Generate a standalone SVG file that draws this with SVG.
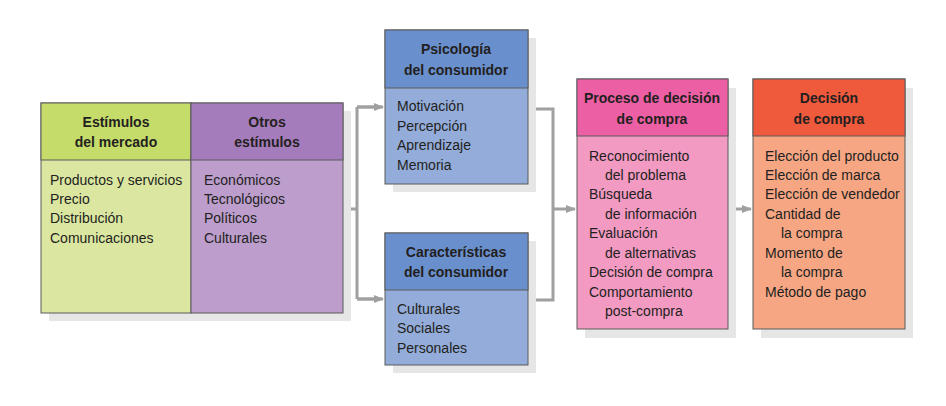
<svg xmlns="http://www.w3.org/2000/svg" width="946" height="406" viewBox="0 0 946 406">
<style>
text{font-family:"Liberation Sans Narrow","Liberation Sans",Arial,sans-serif;font-size:14px;fill:#231f20}
.h{font-weight:bold;text-anchor:middle}
.sh{fill:#e6e6e6}
.b{stroke:#5a5a5a;stroke-width:1}
.c{fill:none;stroke:#a0a0a0;stroke-width:3}
</style>
<defs><marker id="a" markerWidth="10" markerHeight="8" refX="9" refY="4" orient="auto" markerUnits="userSpaceOnUse"><path d="M0,0 L10,4 L0,8 z" fill="#a0a0a0"/></marker></defs>
<g id="connectors">
<path class="c" d="M343,209 H357 M357,107 V299 M357,107 H381 M357,299 H381" />
<path class="c" d="M357,107 H383" marker-end="url(#a)"/>
<path class="c" d="M357,299 H383" marker-end="url(#a)"/>
<path class="c" d="M528,109 H553 V300 H528 M553,209 H575" marker-end="url(#a)"/>
<path class="c" d="M728,209 H751" marker-end="url(#a)"/>
</g>
<g id="estimulos">
<rect class="sh" x="49" y="111" width="302" height="210"/>
<rect class="b" x="41" y="103" width="150" height="210" fill="#dbe7a1"/>
<rect class="b" x="41" y="103" width="150" height="57" fill="#c5dc6a"/>
<text class="h" x="116" y="127">Estímulos</text><text class="h" x="116" y="147">del mercado</text>
<text x="50" y="185">Productos y servicios</text><text x="50" y="204">Precio</text><text x="50" y="223">Distribución</text><text x="50" y="243">Comunicaciones</text>
</g>
<g id="otros">
<rect class="b" x="191" y="103" width="152" height="210" fill="#bc9dcc"/>
<rect class="b" x="191" y="103" width="152" height="57" fill="#a57cbb"/>
<text class="h" x="267" y="127">Otros</text><text class="h" x="267" y="147">estímulos</text>
<text x="204" y="185">Económicos</text><text x="204" y="204">Tecnológicos</text><text x="204" y="223">Políticos</text><text x="204" y="243">Culturales</text>
</g>
<g id="psicologia">
<rect class="sh" x="393" y="38" width="143" height="154"/>
<rect class="b" x="385" y="30" width="143" height="154" fill="#93acd9"/>
<rect class="b" x="385" y="30" width="143" height="58" fill="#6a8fcd"/>
<text class="h" x="456" y="54">Psicología</text><text class="h" x="456" y="75">del consumidor</text>
<text x="397" y="111">Motivación</text><text x="397" y="131">Percepción</text><text x="397" y="150">Aprendizaje</text><text x="397" y="170">Memoria</text>
</g>
<g id="caracteristicas">
<rect class="sh" x="393" y="241" width="143" height="132"/>
<rect class="b" x="385" y="233" width="143" height="132" fill="#93acd9"/>
<rect class="b" x="385" y="233" width="143" height="57" fill="#6a8fcd"/>
<text class="h" x="456" y="257">Características</text><text class="h" x="456" y="277">del consumidor</text>
<text x="397" y="314">Culturales</text><text x="397" y="333">Sociales</text><text x="397" y="353">Personales</text>
</g>
<g id="proceso">
<rect class="sh" x="585" y="88" width="151" height="250"/>
<rect class="b" x="577" y="79" width="151" height="250" fill="#f29ac2"/>
<rect class="b" x="577" y="79" width="151" height="57" fill="#ec5fa4"/>
<text class="h" x="652" y="103">Proceso de decisión</text><text class="h" x="652" y="124">de compra</text>
<text x="589" y="161">Reconocimiento</text><text x="605" y="180">del problema</text><text x="589" y="199">Búsqueda</text><text x="605" y="219">de información</text><text x="589" y="238">Evaluación</text><text x="605" y="258">de alternativas</text><text x="589" y="277">Decisión de compra</text><text x="589" y="297">Comportamiento</text><text x="605" y="316">post-compra</text>
</g>
<g id="decision">
<rect class="sh" x="761" y="88" width="152" height="250"/>
<rect class="b" x="753" y="79" width="152" height="250" fill="#f7a684"/>
<rect class="b" x="753" y="79" width="152" height="57" fill="#ef5a3c"/>
<text class="h" x="829" y="103">Decisión</text><text class="h" x="829" y="124">de compra</text>
<text x="765" y="161">Elección del producto</text><text x="765" y="180">Elección de marca</text><text x="765" y="199">Elección de vendedor</text><text x="765" y="219">Cantidad de</text><text x="781" y="238">la compra</text><text x="765" y="258">Momento de</text><text x="781" y="277">la compra</text><text x="765" y="297">Método de pago</text>
</g>
</svg>
